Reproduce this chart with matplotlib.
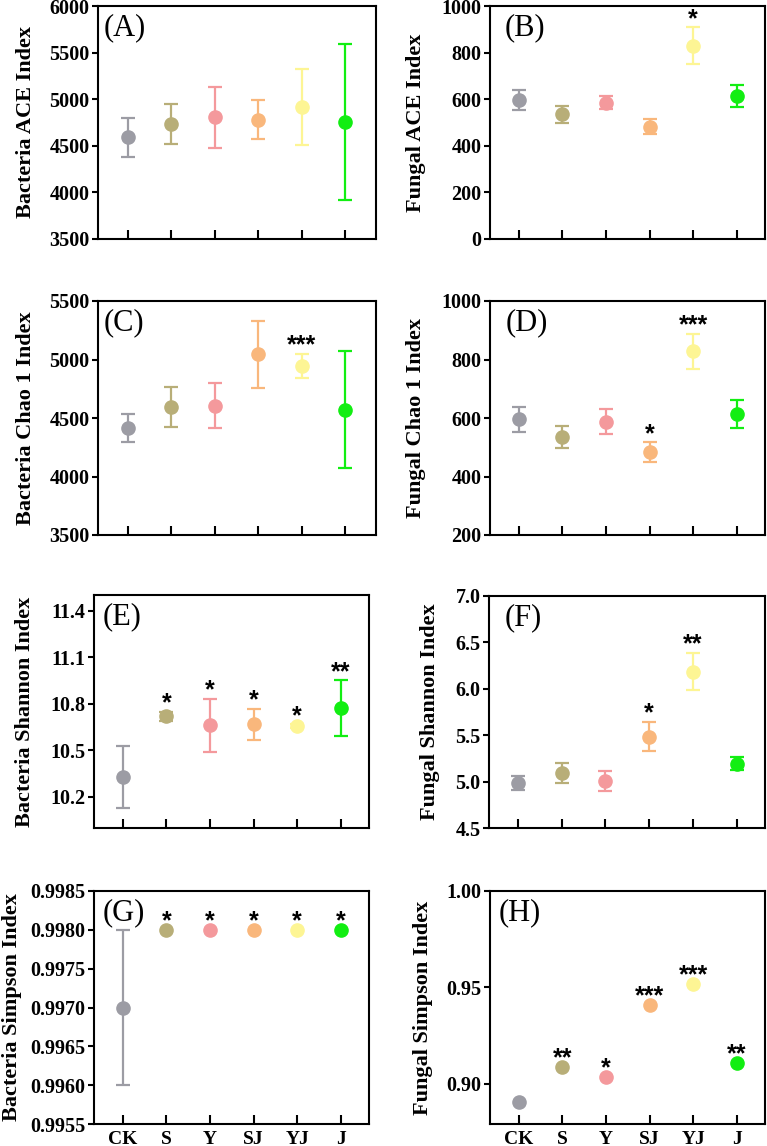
import matplotlib
matplotlib.use("Agg")
import matplotlib.pyplot as plt

# groups and colours
groups = ["CK", "S", "Y", "SJ", "YJ", "J"]
colors = ["#9c9ca4", "#b8ae78", "#f4999c", "#f9b77c", "#fdf594", "#12ee12"]

# panel data: mean, error, significance
bac_ace = [4590, 4730, 4805, 4780, 4915, 4755]
bac_ace_err = [210, 215, 330, 210, 410, 835]
bac_ace_sig = ["", "", "", "", "", ""]

fun_ace = [595, 535, 585, 482, 830, 614]
fun_ace_err = [43, 37, 28, 33, 78, 49]
fun_ace_sig = ["", "", "", "", "*", ""]

bac_chao = [4417, 4597, 4605, 5044, 4945, 4569]
bac_chao_err = [118, 172, 190, 288, 105, 500]
bac_chao_sig = ["", "", "", "", "***", ""]

fun_chao = [595, 535, 588, 484, 828, 613]
fun_chao_err = [43, 37, 43, 33, 59, 47]
fun_chao_sig = ["", "", "", "*", "***", ""]

bac_shannon = [10.327, 10.718, 10.66, 10.667, 10.655, 10.77]
bac_shannon_err = [0.2, 0.03, 0.17, 0.1, 0.012, 0.18]
bac_shannon_sig = ["", "*", "*", "*", "*", "**"]

fun_shannon = [4.98, 5.095, 5.005, 5.485, 6.186, 5.195]
fun_shannon_err = [0.075, 0.107, 0.11, 0.16, 0.2, 0.07]
fun_shannon_sig = ["", "", "", "*", "**", ""]

bac_simpson = [0.9970, 0.9980, 0.9980, 0.9980, 0.9980, 0.9980]
bac_simpson_err = [0.0010, 0, 0, 0, 0, 0]
bac_simpson_sig = ["", "*", "*", "*", "*", "*"]

fun_simpson = [0.8905, 0.9086, 0.9036, 0.9407, 0.9519, 0.9107]
fun_simpson_err = [0, 0, 0, 0, 0, 0]
fun_simpson_sig = ["", "**", "*", "***", "***", "**"]

serif = "Liberation Serif"
sans = "Liberation Sans"

fig = plt.figure(figsize=(7.67, 11.46), dpi=100)
W, H = 767, 1146


def add_panel(left, right, top, bottom):
    return fig.add_axes([left / W, 1 - bottom / H, (right - left) / W, (bottom - top) / H])


panels = [
    # (box px, means, errs, sigs, ylabel, ylim, yticks, fmt, letter, label_x, letter_x, xlim, show_x)
    ((98, 376, 6, 239), bac_ace, bac_ace_err, bac_ace_sig, "Bacteria ACE Index",
     (3500, 6000), [3500, 4000, 4500, 5000, 5500, 6000], "{:.0f}", "(A)", -0.222, 0.02, (-0.69, 5.71), False),
    ((490, 765, 6, 239), fun_ace, fun_ace_err, fun_ace_sig, "Fungal ACE Index",
     (0, 1000), [0, 200, 400, 600, 800, 1000], "{:.0f}", "(B)", -0.233, 0.055, (-0.66, 5.65), False),
    ((98, 376, 301, 535), bac_chao, bac_chao_err, bac_chao_sig, "Bacteria Chao 1 Index",
     (3500, 5500), [3500, 4000, 4500, 5000, 5500], "{:.0f}", "(C)", -0.222, 0.02, (-0.69, 5.71), False),
    ((490, 765, 301, 535), fun_chao, fun_chao_err, fun_chao_sig, "Fungal Chao 1 Index",
     (200, 1000), [200, 400, 600, 800, 1000], "{:.0f}", "(D)", -0.233, 0.058, (-0.66, 5.65), False),
    ((94, 369, 595, 828), bac_shannon, bac_shannon_err, bac_shannon_sig, "Bacteria Shannon Index",
     (10.0, 11.5), [10.2, 10.5, 10.8, 11.1, 11.4], "{:.1f}", "(E)", -0.215, 0.033, (-0.66, 5.65), False),
    ((489, 765, 596, 828), fun_shannon, fun_shannon_err, fun_shannon_sig, "Fungal Shannon Index",
     (4.5, 7.0), [4.5, 5.0, 5.5, 6.0, 6.5, 7.0], "{:.1f}", "(F)", -0.178, 0.058, (-0.66, 5.65), False),
    ((94, 369, 891, 1124), bac_simpson, bac_simpson_err, bac_simpson_sig, "Bacteria Simpson Index",
     (0.9955, 0.9985), [0.9955, 0.9960, 0.9965, 0.9970, 0.9975, 0.9980, 0.9985], "{:.4f}", "(G)", -0.263, 0.033, (-0.66, 5.65), True),
    ((490, 765, 891, 1124), fun_simpson, fun_simpson_err, fun_simpson_sig, "Fungal Simpson Index",
     (0.879, 1.0), [0.90, 0.95, 1.00], "{:.2f}", "(H)", -0.207, 0.03, (-0.66, 5.65), True),
]

for box, means, errs, sigs, ylabel, ylim, yticks, fmt, letter, lab_x, let_x, xlim, show_x in panels:
    ax = add_panel(*box)
    x = list(range(len(groups)))
    for i in x:
        ax.errorbar(i, means[i], yerr=errs[i] if errs[i] > 0 else None, fmt="o",
                    color=colors[i], ms=9.5, elinewidth=1.6, capsize=5, capthick=1.6, zorder=3)
        if sigs[i]:
            ax.annotate(sigs[i], (i, means[i] + errs[i]), xytext=(0, 1), textcoords="offset points",
                        ha="center", va="baseline", fontsize=18, fontweight="bold", family=sans)
    ax.set_xlim(*xlim)
    ax.set_ylim(*ylim)
    ax.set_yticks(yticks)
    ax.set_yticklabels([fmt.format(v) for v in yticks], family=serif, fontweight="bold", fontsize=14.5)
    ax.set_xticks(x)
    if show_x:
        ax.set_xticklabels(groups, family=serif, fontweight="bold", fontsize=14)
    else:
        ax.set_xticklabels([])
    ax.tick_params(axis="x", direction="in", length=6.5, width=1.5, pad=5)
    ax.tick_params(axis="y", direction="out", length=4, width=1.5, pad=2)
    for sp in ax.spines.values():
        sp.set_linewidth(1.5)
    ax.set_ylabel(ylabel, family=serif, fontweight="bold", fontsize=16)
    ax.yaxis.set_label_coords(lab_x, 0.5)
    ax.text(let_x, 0.97, letter, transform=ax.transAxes, ha="left", va="top",
            family=serif, fontsize=22)

fig.savefig("out.png", dpi=100)
